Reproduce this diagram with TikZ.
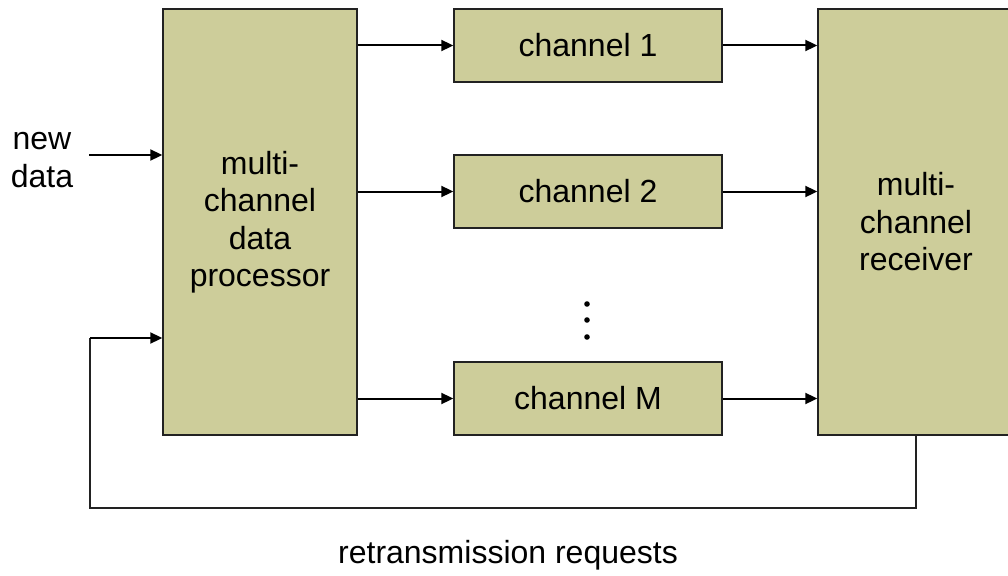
\documentclass[tikz,border=0pt]{standalone}
\usepackage{fontspec}
\setmainfont{Liberation Sans}
\usetikzlibrary{arrows.meta}
\definecolor{boxfill}{HTML}{CDCD9A}
\definecolor{boxline}{HTML}{222222}
\tikzset{
  block/.style={draw=boxline, line width=1.4pt, fill=boxfill, align=center,
    inner sep=0pt, font=\fontsize{32}{37.5}\selectfont},
  arr/.style={draw=black, line width=2pt, -{Triangle[length=12pt,width=11pt]}},
  fbline/.style={draw=boxline, line width=1.5pt},
  lbl/.style={align=center, font=\fontsize{32}{37.5}\selectfont, inner sep=0pt}
}
\begin{document}
\begin{tikzpicture}[x=1pt,y=-1pt]
\useasboundingbox (0,0) rectangle (1008,575);

% processing, channel and receiver blocks
\node[block, minimum width=194pt, minimum height=426pt] (proc) at (260,222)
  {multi-\\channel\\data\\processor};
\node[block, minimum width=268pt, minimum height=73pt] (ch1) at (588,45.5) {channel 1};
\node[block, minimum width=268pt, minimum height=73pt] (ch2) at (588,191.5) {channel 2};
\node[block, minimum width=268pt, minimum height=73pt] (chM) at (588,398.5) {channel M};
\node[block, minimum width=196pt, minimum height=426pt] (recv) at (916,222)
  {multi-\\channel\\receiver};

% vertical ellipsis between channel 2 and channel M
\foreach \yy [count=\i] in {304,320,337}
  \fill (587,\yy) circle[radius=2.8pt] coordinate (dot\i);

% input
\node[lbl] (newdata) at (42,160) {new\\data};
\coordinate (in) at (89,155);
\draw[arr] (in) -- (proc.west |- in);

% processor -> channels -> receiver
\foreach \c in {ch1,ch2,chM}{
  \draw[arr] (proc.east |- \c.west) -- (\c.west);
  \draw[arr] (\c.east) -- (recv.west |- \c.east);
}

% retransmission feedback loop
\coordinate (fbbot) at (90,508);
\coordinate (fbtop) at (90,338);
\draw[fbline] (recv.south) |- (fbbot) -- (fbtop);
\draw[arr] (fbtop) -- (proc.west |- fbtop);
\node[lbl, anchor=base] (retx) at (508,563) {retransmission requests};
\end{tikzpicture}
\end{document}
